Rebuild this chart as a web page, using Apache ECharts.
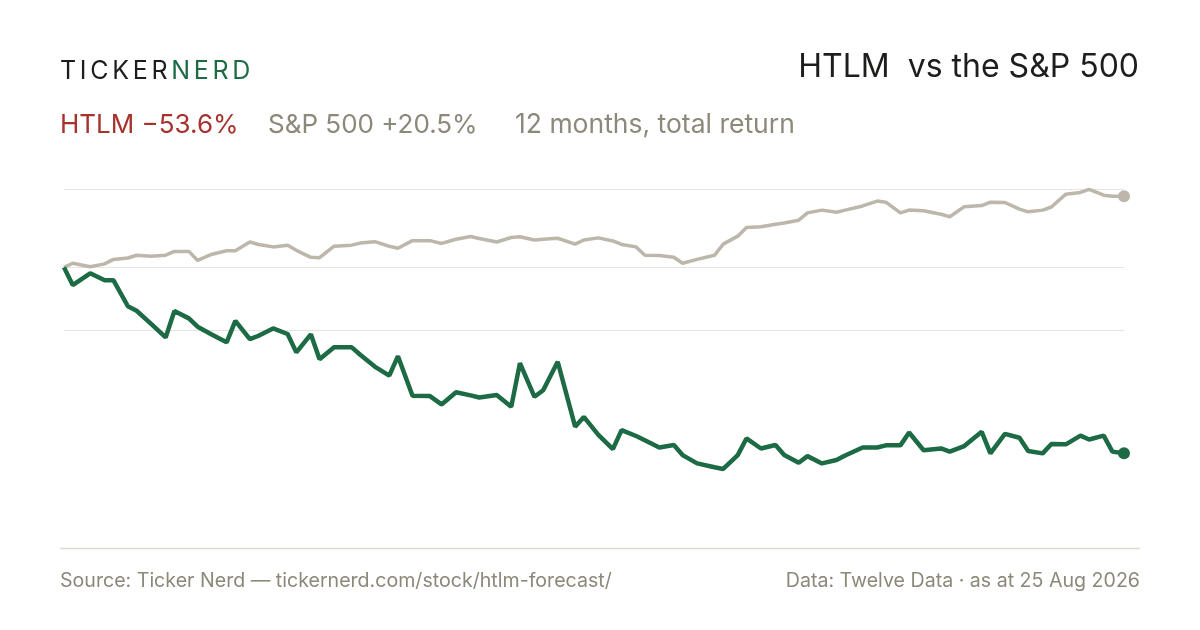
<!DOCTYPE html>
<html lang="en">
<head>
    <meta charset="UTF-8">
    <title>HTLM vs the S&amp;P 500</title>
    <style>
        html, body {
            margin: 0;
            padding: 0;
            background: #ffffff;
        }
        .wrap {
            position: relative;
            width: 1200px;
            height: 630px;
        }
        #main {
            width: 1200px;
            height: 630px;
        }
        .logo {
            position: absolute;
            left: 60px;
            top: 53px;
            font-family: Inter, "Noto Sans", sans-serif;
            font-size: 25px;
            line-height: 34px;
            letter-spacing: 3.7px;
            color: #1d1d1b;
        }
        .logo .nerd {
            color: #1c6b44;
        }
    </style>
</head>
<body>
<div class="wrap">
    <div id="main"></div>
    <div class="logo"><span>TICKER</span><span class="nerd">NERD</span></div>
</div>
<script src="https://cdn.jsdelivr.net/npm/echarts@6/dist/echarts.min.js"></script>
<script>
    // every 3rd trading day, 25 Aug 2025 -> 25 Aug 2026
    var dates = [
        '2025-08-25', '2025-08-28', '2025-09-03', '2025-09-08', '2025-09-11',
        '2025-09-16', '2025-09-19', '2025-09-24', '2025-09-29', '2025-10-02',
        '2025-10-07', '2025-10-10', '2025-10-15', '2025-10-20', '2025-10-23',
        '2025-10-28', '2025-10-31', '2025-11-05', '2025-11-10', '2025-11-13',
        '2025-11-18', '2025-11-21', '2025-11-26', '2025-12-02', '2025-12-05',
        '2025-12-10', '2025-12-15', '2025-12-18', '2025-12-23', '2025-12-29',
        '2026-01-02', '2026-01-07', '2026-01-12', '2026-01-15', '2026-01-21',
        '2026-01-26', '2026-01-29', '2026-02-03', '2026-02-06', '2026-02-11',
        '2026-02-17', '2026-02-20', '2026-02-25', '2026-03-02', '2026-03-05',
        '2026-03-10', '2026-03-13', '2026-03-18', '2026-03-23', '2026-03-26',
        '2026-03-31', '2026-04-06', '2026-04-09', '2026-04-14', '2026-04-17',
        '2026-04-22', '2026-04-27', '2026-04-30', '2026-05-05', '2026-05-08',
        '2026-05-13', '2026-05-18', '2026-05-21', '2026-05-27', '2026-06-01',
        '2026-06-04', '2026-06-09', '2026-06-12', '2026-06-17', '2026-06-23',
        '2026-06-26', '2026-07-01', '2026-07-07', '2026-07-10', '2026-07-15',
        '2026-07-20', '2026-07-23', '2026-07-28', '2026-07-31', '2026-08-05',
        '2026-08-10', '2026-08-13', '2026-08-18', '2026-08-21', '2026-08-25'
    ];

    // total return since start, %
    var htlm = [
        0, -5.1, -1.7, -3.7, -3.7, -11.2, -12.5, -16.3, -20.2, -12.6,
        -14.7, -17.1, -19.4, -21.6, -15.4, -20.7, -19.7, -17.6, -19.2, -24.5,
        -19.3, -26.5, -23.0, -23.0, -25.2, -28.6, -31.2, -25.6, -37.0, -37.1,
        -39.5, -36.0, -36.9, -37.5, -36.8, -40.2, -27.6, -37.3, -35.4, -27.2,
        -45.9, -43.1, -48.3, -52.4, -46.9, -48.6, -49.8, -51.9, -51.2, -54.1,
        -56.5, -57.6, -58.1, -54.1, -49.3, -52.2, -51.2, -54.1, -56.3, -54.4,
        -56.5, -55.5, -54.2, -51.9, -51.9, -51.3, -51.3, -47.6, -52.7, -52.2,
        -53.1, -51.5, -47.4, -53.6, -48.0, -49.1, -52.9, -53.6, -50.9, -51.0,
        -48.5, -49.6, -48.5, -53.1, -53.6
    ];

    var spx = [
        0, 1.2, 0.2, 1.0, 2.3, 2.7, 3.5, 3.2, 3.5, 4.6,
        4.6, 2.0, 3.8, 4.8, 4.8, 7.3, 6.6, 5.9, 6.4, 4.9,
        2.9, 2.8, 6.1, 6.4, 7.0, 7.4, 6.1, 5.5, 7.7, 7.7,
        6.9, 8.1, 8.9, 8.3, 7.3, 8.6, 8.8, 7.9, 8.1, 8.4,
        6.7, 7.9, 8.5, 7.6, 6.6, 5.9, 3.5, 3.4, 2.9, 1.2,
        2.3, 3.5, 6.7, 9.0, 11.5, 11.7, 12.4, 12.8, 13.6, 15.7,
        16.5, 15.9, 16.5, 17.7, 19.1, 18.8, 15.7, 16.5, 16.3, 15.3,
        14.6, 17.5, 17.8, 18.8, 18.7, 16.8, 16.0, 16.5, 17.4, 21.1,
        21.6, 22.5, 20.8, 20.5, 20.5
    ];

    var gridValues = [22.5, 0, -18];

    var GREEN = '#1c6b44';
    var SAND = '#bdb6aa';
    var MUTED = '#8c887a';
    var FONT = 'Inter, "Noto Sans", sans-serif';

    var pairs = function (vals) {
        var out = [];
        for (var i = 0; i < vals.length; i++) {
            out.push([dates[i], vals[i]]);
        }
        return out;
    };
    var lastPoint = function (vals) {
        var n = vals.length - 1;
        return [[dates[n], vals[n]]];
    };

    var gridMarks = [];
    for (var g = 0; g < gridValues.length; g++) {
        gridMarks.push({yAxis: gridValues[g]});
    }

    var chart = echarts.init(document.getElementById('main'));

    var option = {
        backgroundColor: '#ffffff',
        animation: false,
        grid: {
            left: 64,
            width: 1060,
            top: 189.3,
            height: 338.3
        },
        xAxis: {
            type: 'time',
            min: dates[0],
            max: dates[dates.length - 1],
            show: false
        },
        yAxis: {
            type: 'value',
            min: -75,
            max: 22.5,
            show: false,
            splitLine: {show: false}
        },
        graphic: [
            {
                type: 'text',
                right: 61,
                top: 51,
                style: {
                    text: 'HTLM  vs the S&P 500',
                    font: '400 32px ' + FONT,
                    fill: '#1d1d1b'
                }
            },
            {
                type: 'text',
                left: 60,
                top: 112,
                style: {
                    text: 'HTLM \u221253.6%',
                    font: '400 26px ' + FONT,
                    fill: '#a8322e'
                }
            },
            {
                type: 'text',
                left: 268,
                top: 112,
                style: {
                    text: 'S&P 500 +20.5%',
                    font: '400 26px ' + FONT,
                    fill: MUTED
                }
            },
            {
                type: 'text',
                left: 515,
                top: 112,
                style: {
                    text: '12 months, total return',
                    font: '400 26.5px ' + FONT,
                    fill: MUTED
                }
            },
            {
                type: 'line',
                shape: {x1: 60, y1: 548.5, x2: 1140, y2: 548.5},
                style: {stroke: '#dedacf', lineWidth: 1.5}
            },
            {
                type: 'text',
                left: 60,
                top: 571,
                style: {
                    text: 'Source: Ticker Nerd \u2014 tickernerd.com/stock/htlm-forecast/',
                    font: '400 19.6px ' + FONT,
                    fill: MUTED
                }
            },
            {
                type: 'text',
                right: 60,
                top: 571,
                style: {
                    text: 'Data: Twelve Data \u00b7 as at 25 Aug 2026',
                    font: '400 19.6px ' + FONT,
                    fill: MUTED
                }
            }
        ],
        series: [
            {
                name: 'S&P 500',
                type: 'line',
                data: pairs(spx),
                showSymbol: false,
                lineStyle: {color: SAND, width: 3.5},
                z: 2,
                markLine: {
                    silent: true,
                    symbol: 'none',
                    label: {show: false},
                    lineStyle: {color: '#e8e5de', width: 1.2, type: 'solid'},
                    data: gridMarks,
                    z: 1
                }
            },
            {
                name: 'HTLM',
                type: 'line',
                data: pairs(htlm),
                showSymbol: false,
                lineStyle: {color: GREEN, width: 4.5},
                z: 3
            },
            {
                type: 'scatter',
                data: lastPoint(spx),
                symbolSize: 12,
                itemStyle: {color: SAND, opacity: 1},
                z: 4
            },
            {
                type: 'scatter',
                data: lastPoint(htlm),
                symbolSize: 12,
                itemStyle: {color: GREEN, opacity: 1},
                z: 4
            }
        ]
    };

    chart.setOption(option);
</script>
</body>
</html>
